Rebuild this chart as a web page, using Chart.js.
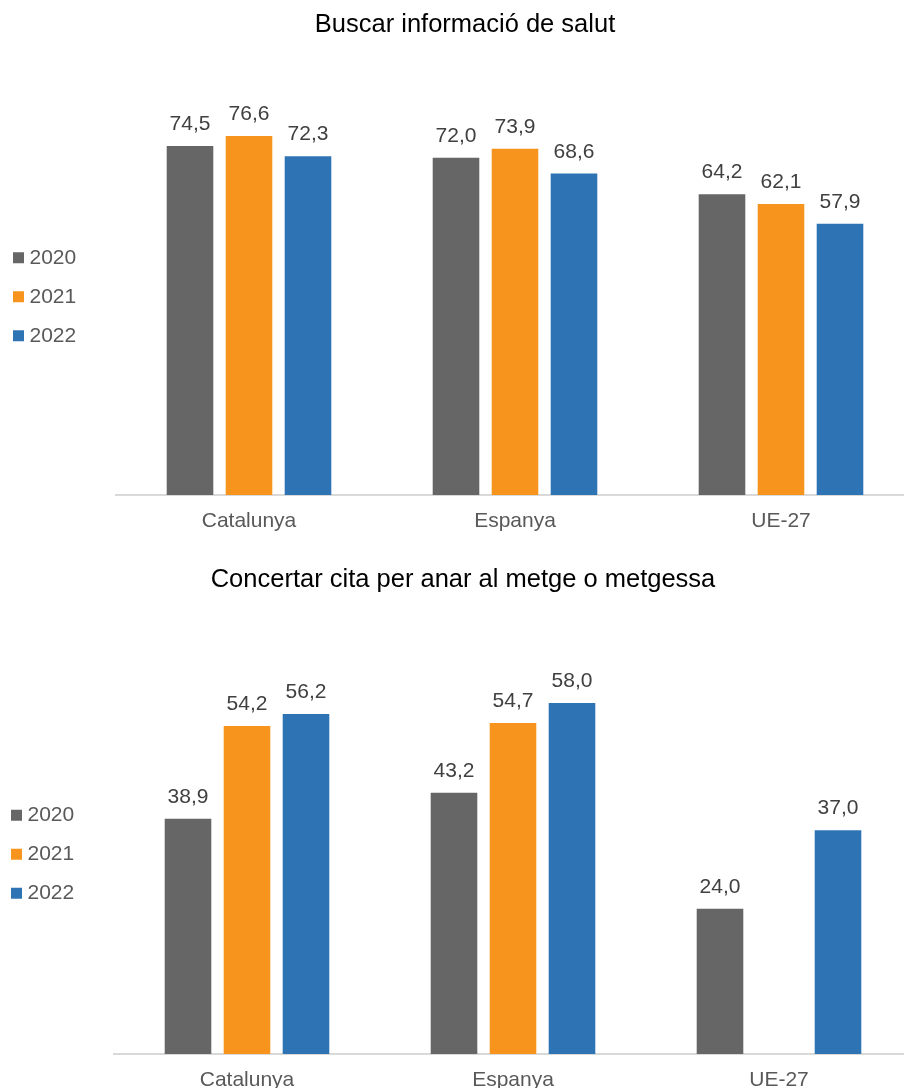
<!DOCTYPE html>
<html>
<head>
<meta charset="utf-8">
<script src="https://cdn.jsdelivr.net/npm/chart.js@4.4.1/dist/chart.umd.min.js"></script>
<style>
  html, body { margin: 0; padding: 0; background: #ffffff; overflow: hidden; width: 904px; height: 1088px; }
  canvas { position: absolute; }
  #c1 { left: 0px; top: 0px; }
  #c2 { left: -2px; top: 555px; }
</style>
</head>
<body>
<canvas id="c1" width="930" height="555" style="width:930px;height:555px"></canvas>
<canvas id="c2" width="930" height="560" style="width:930px;height:560px"></canvas>
<script>
// ---- Data ----
const categories = ['Catalunya', 'Espanya', 'UE-27'];
const years = ['2020', '2021', '2022'];

const title1 = 'Buscar informació de salut';
const salut2020 = [74.5, 72.0, 64.2];
const salut2021 = [76.6, 73.9, 62.1];
const salut2022 = [72.3, 68.6, 57.9];

const title2 = 'Concertar cita per anar al metge o metgessa';
const cita2020 = [38.9, 43.2, 24.0];
const cita2021 = [54.2, 54.7, null];
const cita2022 = [56.2, 58.0, 37.0];

const seriesColors = ['#666666', '#F7941E', '#2E74B5'];

// ---- Styles ----
const FONT = "'Liberation Sans', Arial, sans-serif";
const SIDE_PAD = 16;

const valueLabels = {
  id: 'valueLabels',
  afterDatasetsDraw(chart) {
    const ctx = chart.ctx;
    ctx.save();
    ctx.font = '21px ' + FONT;
    ctx.fillStyle = '#404040';
    ctx.textAlign = 'center';
    ctx.textBaseline = 'alphabetic';
    chart.data.datasets.forEach((ds, di) => {
      const meta = chart.getDatasetMeta(di);
      meta.data.forEach((bar, i) => {
        const v = ds.data[i];
        if (v === null || v === undefined) return;
        ctx.fillText(v.toFixed(1).replace('.', ','), bar.x, bar.y - 16);
      });
    });
    ctx.restore();
  }
};

// Legend column: fixed width, drawn flush with the canvas' left edge
const legendPlace = {
  id: 'legendPlace',
  beforeUpdate(chart) {
    const lg = chart.legend;
    if (!lg || lg._patched) return;
    const orig = lg.fit;
    lg.fit = function () {
      orig.call(this);
      this.width = 100;
    };
    lg._patched = true;
  },
  afterLayout(chart) {
    const lg = chart.legend;
    if (!lg) return;
    lg.left -= SIDE_PAD;
    lg.right -= SIDE_PAD;
  }
};

function makeChart(id, title, s2020, s2021, s2022, yMax, titlePadBottom, padBottom) {
  const series = [s2020, s2021, s2022];
  return new Chart(document.getElementById(id), {
    type: 'bar',
    data: {
      labels: categories,
      datasets: years.map((y, k) => ({
        label: y,
        data: series[k],
        backgroundColor: seriesColors[k],
        borderWidth: 0,
        categoryPercentage: 0.6654,
        barPercentage: 0.79
      }))
    },
    options: {
      responsive: false,
      animation: false,
      devicePixelRatio: 1,
      layout: { padding: { left: SIDE_PAD, right: SIDE_PAD, top: 0, bottom: padBottom } },
      plugins: {
        title: {
          display: true,
          text: title,
          color: '#000000',
          font: { family: FONT, size: 25.5, weight: 'normal' },
          padding: { top: 10, bottom: titlePadBottom }
        },
        legend: {
          display: true,
          position: 'left',
          fullSize: false,
          align: 'center',
          labels: {
            usePointStyle: true,
            pointStyle: 'rect',
            boxWidth: 1,
            boxHeight: 11,
            padding: 18,
            color: '#595959',
            font: { family: FONT, size: 21 }
          }
        },
        tooltip: { enabled: false }
      },
      scales: {
        x: {
          grid: { display: false, drawTicks: false },
          border: { display: true, color: '#d9d9d9', width: 2 },
          ticks: { color: '#595959', font: { family: FONT, size: 21 }, padding: 14 },
          afterFit: (s) => { s.height = 40; }
        },
        y: {
          display: false,
          min: 0,
          max: yMax,
          grid: { display: false }
        }
      }
    },
    plugins: [valueLabels, legendPlace]
  });
}

makeChart('c1', title1, salut2020, salut2021, salut2022, 84.63, 57.9, 20);
makeChart('c2', title2, cita2020, cita2021, cita2022, 66.07, 58.7, 21);
</script>
</body>
</html>
